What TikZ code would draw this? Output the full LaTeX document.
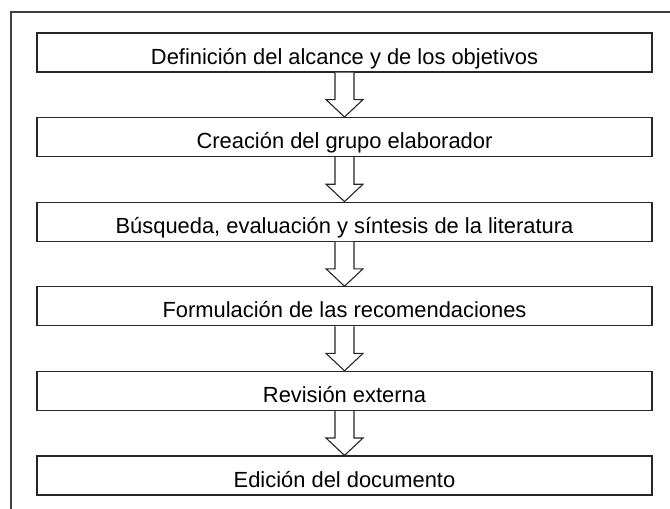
\documentclass[tikz,border=0pt]{standalone}
\usepackage{fontspec}
\setmainfont{Liberation Sans}
\usetikzlibrary{calc}
\tikzset{
  stepbox/.style={draw=black!85, line width=1.2pt, minimum width=615pt, minimum height=39pt, inner sep=0pt, text height=23pt, text depth=0pt, font=\fontsize{21.9}{24}\selectfont, anchor=center},
  blockarrow/.style={draw=black!85, line width=1.1pt, fill=white, line join=miter},
  frameline/.style={draw=black!75, line width=1.1pt}
}
\begin{document}
\begin{tikzpicture}[x=1pt,y=-1pt]
\useasboundingbox (0,0) rectangle (670,509);
\coordinate (ftop) at (670,12);
\coordinate (fcorner) at (11,12);
\coordinate (fbottom) at (11,509);
\draw[frameline] (ftop) -- (fcorner) -- (fbottom);
\node[stepbox] (b1) at (344.5,52.5) {Definición del alcance y de los objetivos};
\node[stepbox] (b2) at (344.5,137.1) {Creación del grupo elaborador};
\node[stepbox] (b3) at (344.5,221.7) {Búsqueda, evaluación y síntesis de la literatura};
\node[stepbox] (b4) at (344.5,306.3) {Formulación de las recomendaciones};
\node[stepbox] (b5) at (344.5,390.9) {Revisión externa};
\node[stepbox] (b6) at (344.5,475.5) {Edición del documento};
\foreach \a/\b in {b1/b2,b2/b3,b3/b4,b4/b5,b5/b6}{
  \draw[blockarrow] ($(\a.south)+(-9.5,0)$) -- ($(\a.south)+(-9.5,27)$) -- ($(\a.south)+(-18.5,27)$) -- (\b.north) -- ($(\a.south)+(18.5,27)$) -- ($(\a.south)+(9.5,27)$) -- ($(\a.south)+(9.5,0)$);
}
\end{tikzpicture}
\end{document}
